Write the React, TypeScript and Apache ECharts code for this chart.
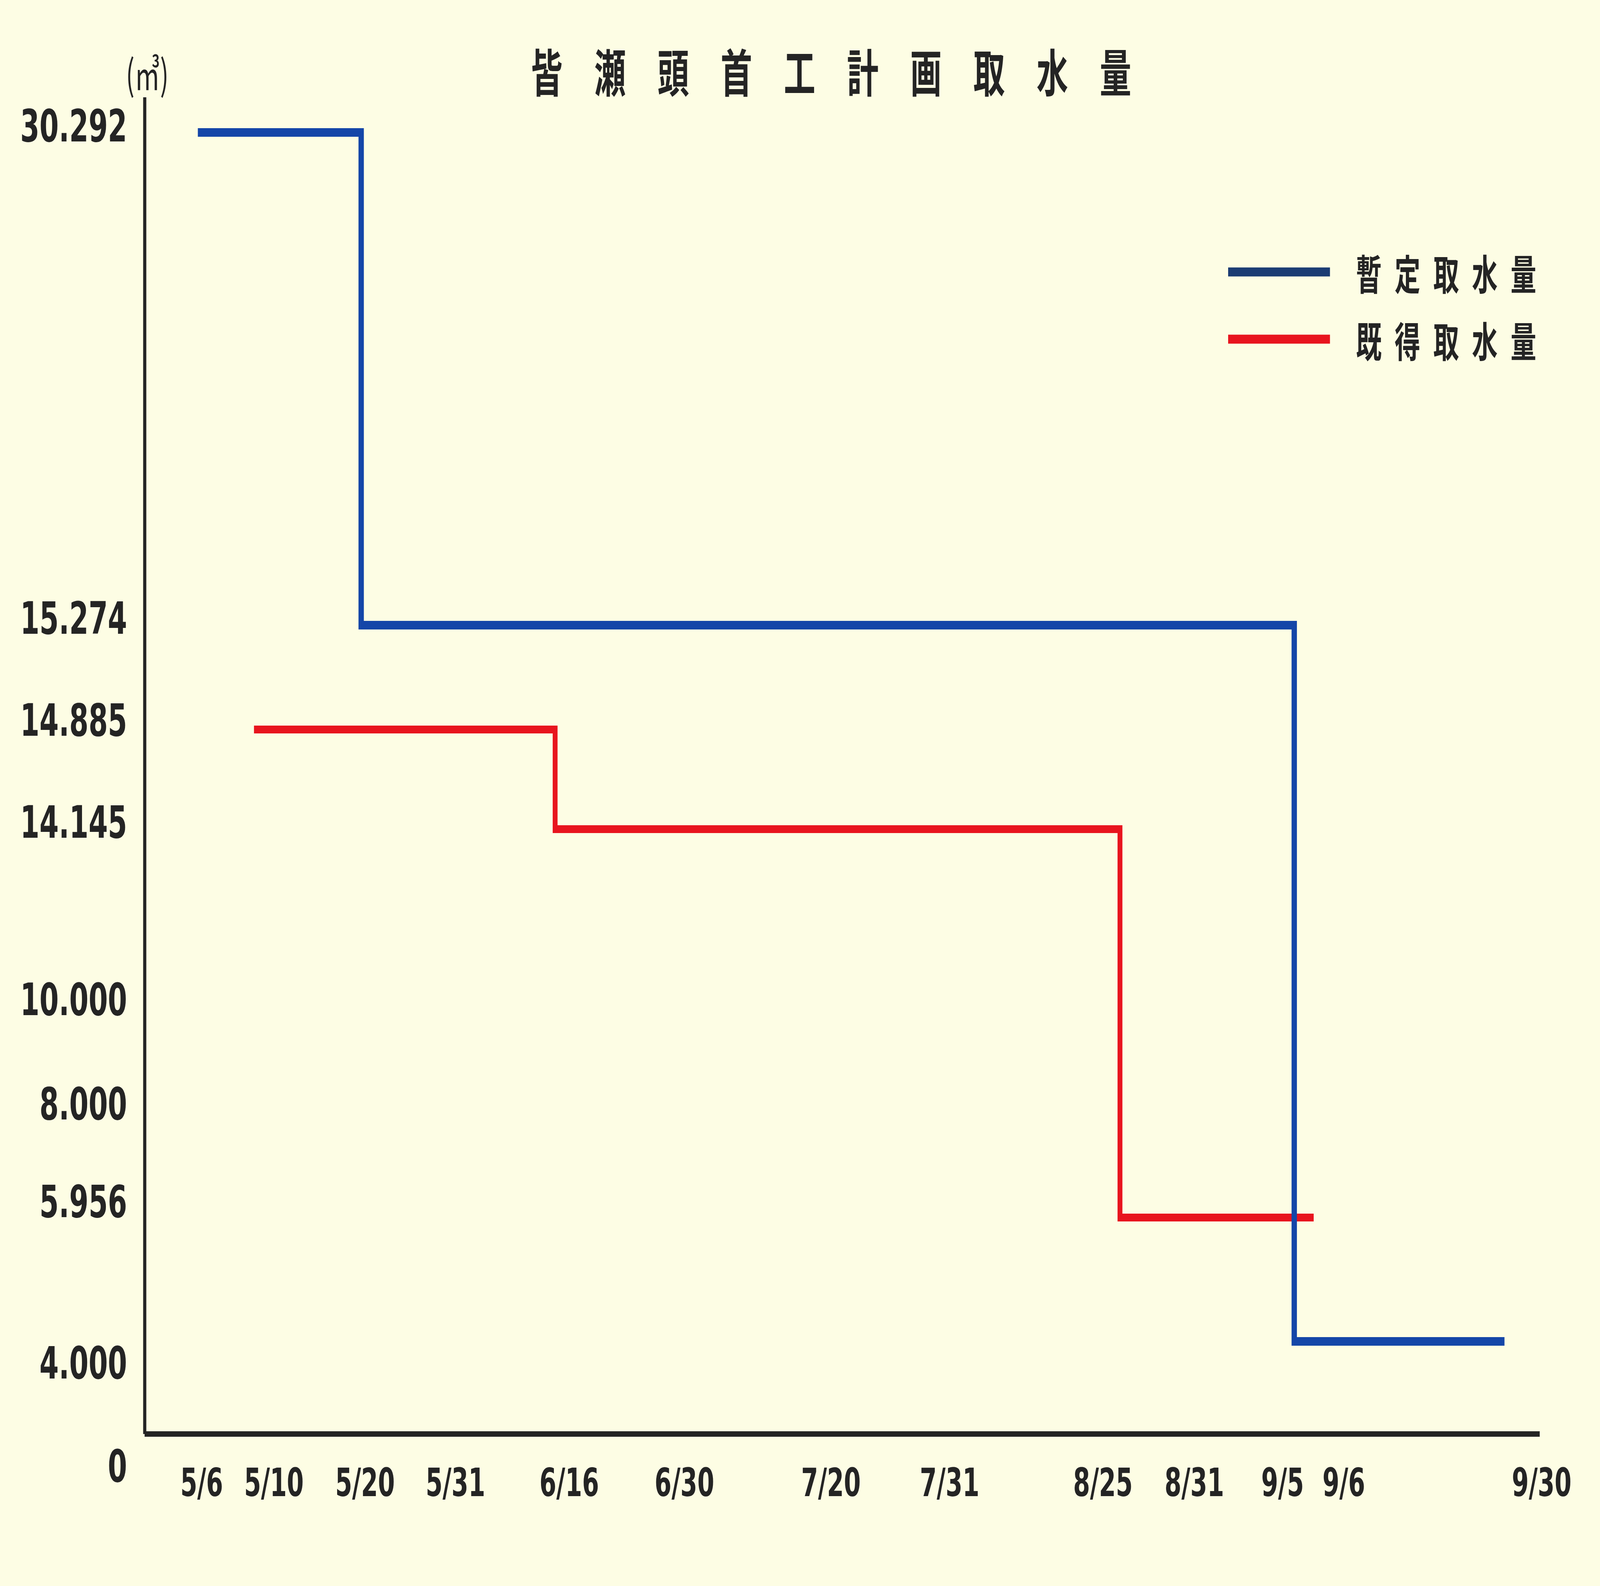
import React, { useEffect, useRef } from "react";
import * as echarts from "echarts";

// ---------- content ----------
const TITLE = "皆瀬頭首工計画取水量";
const UNIT = "(㎥)";
const seriesNames = ["暫定取水量", "既得取水量"];

const dateLabels = ["5/6", "5/10", "5/20", "5/31", "6/16", "6/30", "7/20", "7/31", "8/25", "8/31", "9/5", "9/6", "9/30"];
const valueLabels = ["0", "4.000", "5.956", "8.000", "10.000", "14.145", "14.885", "15.274", "30.292"];
const tickValues = [0, 4.0, 5.956, 8.0, 10.0, 14.145, 14.885, 15.274, 30.292];

const provisionalDates = ["5/6", "5/20", "9/5", "9/30"];
const provisionalValues = [30.292, 15.274, 4.0, 4.0];
const existingDates = ["5/10", "6/16", "8/25", "9/6"];
const existingValues = [14.885, 14.145, 5.956, 5.956];

// ---------- layout (page of 6583 x 4059; hand-drawn, non-linear axes) ----------
const W = 6583;
const H = 4059;
const PLOT_LEFT = 595;
const PLOT_RIGHT = 6335;
const PLOT_TOP = 249;
const PLOT_BOTTOM = 3670;
// where each date sits along the x axis, and how far its printed label is shifted
const dateAxisPos = [814, 1045, 1486, 1874, 2284, 2816, 3419, 3907, 4608, 4914, 5325, 5405, 6190];
const dateLabelShift = [16, 82, 16, 0, 58, 0, 0, 0, -70, 0, -48, 124, 153];
// where each tick value sits (page y), and vertical shift of its printed label
const valueAxisY = [3670, 3433, 3116, 2825, 2558, 2122, 1867, 1600, 339];
const valueLabelShift = [82, 55, -41, 0, 0, -18, -24, -18, -17];

const BLUE = "#1446a8";
const BLUE_LEGEND = "#1b3c73";
const RED = "#e8141e";
const INK = "#242424";
const BG = "#fdfde4";

// scales: date -> x axis units, value -> y axis units (piecewise linear)
const xOf = (d: string) => dateAxisPos[dateLabels.indexOf(d)];
const yUnits = valueAxisY.map((py) => PLOT_BOTTOM - py);
const yOf = (v: number) => {
  for (let i = 0; i < tickValues.length - 1; i++) {
    const a = tickValues[i];
    const b = tickValues[i + 1];
    if (v >= a && v <= b) {
      const t = (v - a) / (b - a);
      return yUnits[i] + t * (yUnits[i + 1] - yUnits[i]);
    }
  }
  return yUnits[yUnits.length - 1];
};
const nearest = (arr: number[], v: number) => {
  let best = 0;
  for (let i = 1; i < arr.length; i++) if (Math.abs(arr[i] - v) < Math.abs(arr[best] - v)) best = i;
  return best;
};

const AXIS_FONT = "DejaVu Sans";
const CJK_FONT = "Noto Sans CJK JP";

export default function App() {
  const wrapRef = useRef<HTMLDivElement>(null);
  const ref = useRef<HTMLDivElement>(null);
  useEffect(() => {
    document.body.style.margin = "0";
    document.body.style.overflow = "hidden";
    document.body.style.background = BG;
    const el = ref.current;
    const wrap = wrapRef.current;
    if (!el || !wrap) return;
    // fit the 6583 x 4059 drawing into whatever viewport the page really has
    const vw = window.innerWidth || W;
    const vh = window.innerHeight || H;
    el.style.transform = `scale(${vw / W}, ${vh / H})`;

    const chart = echarts.init(el, undefined, { renderer: "svg" });

    const xRich: Record<string, any> = {};
    dateLabelShift.forEach((d, i) => {
      xRich["d" + i] = {
        fontSize: 100,
        fontWeight: "bold",
        fontFamily: AXIS_FONT,
        color: INK,
        padding: d >= 0 ? [0, 0, 0, 2 * d] : [0, -2 * d, 0, 0],
      };
    });
    const yRich: Record<string, any> = {};
    valueLabelShift.forEach((d, i) => {
      yRich["v" + i] = {
        fontSize: 114,
        fontWeight: "bold",
        fontFamily: AXIS_FONT,
        color: INK,
        padding: d >= 0 ? [2 * d, 0, 0, 0] : [0, 0, -2 * d, 0],
      };
    });

    const option: any = {
      animation: false,
      backgroundColor: BG,
      title: {
        text: TITLE.split("").join("\u3000"),
        left: 3420 - (19 * 130) / 2,
        top: 113,
        padding: 0,
        textStyle: { fontSize: 130, fontWeight: "bold", fontFamily: CJK_FONT, color: INK, lineHeight: 130 },
      },
      legend: {
        orient: "vertical",
        left: 5053,
        top: 627,
        padding: 0,
        itemGap: 34,
        icon: "rect",
        itemWidth: 419,
        itemHeight: 23,
        selectedMode: false,
        data: [
          { name: seriesNames[0], itemStyle: { color: BLUE_LEGEND } },
          { name: seriesNames[1], itemStyle: { color: RED } },
        ],
        formatter: (name: string) => name.split("").join("\u2002"),
        textStyle: {
          fontSize: 106,
          fontWeight: "bold",
          fontFamily: CJK_FONT,
          color: INK,
          lineHeight: 110,
          padding: [0, 0, 28, 102],
        },
      },
      grid: {
        left: PLOT_LEFT,
        top: PLOT_TOP,
        width: PLOT_RIGHT - PLOT_LEFT,
        height: PLOT_BOTTOM - PLOT_TOP,
        containLabel: false,
      },
      xAxis: {
        type: "value",
        min: PLOT_LEFT,
        max: PLOT_RIGHT,
        axisLine: { show: true, lineStyle: { color: INK, width: 14, cap: "butt" } },
        axisTick: { show: false },
        splitLine: { show: false },
        axisLabel: {
          customValues: dateAxisPos,
          margin: 75,
          formatter: (v: number) => {
            const i = nearest(dateAxisPos, v);
            return "{d" + i + "|" + dateLabels[i] + "}";
          },
          rich: xRich,
        },
      },
      yAxis: {
        type: "value",
        min: 0,
        max: PLOT_BOTTOM - PLOT_TOP,
        name: UNIT,
        nameLocation: "end",
        nameGap: 12,
        nameTextStyle: {
          fontSize: 105,
          fontFamily: CJK_FONT,
          color: INK,
          padding: [0, 0, 0, 22],
        },
        axisLine: { show: true, lineStyle: { color: INK, width: 13, cap: "butt" } },
        axisTick: { show: false },
        splitLine: { show: false },
        axisLabel: {
          customValues: yUnits,
          margin: 72,
          formatter: (v: number) => {
            const i = nearest(yUnits, v);
            return "{v" + i + "|" + valueLabels[i] + "}";
          },
          rich: yRich,
        },
      },
      series: [
        {
          name: seriesNames[1],
          type: "line",
          step: "end",
          symbol: "none",
          silent: true,
          z: 2,
          clip: false,
          data: existingDates.map((d, i) => [xOf(d), yOf(existingValues[i])]),
          lineStyle: { color: RED, width: 20, cap: "butt", join: "miter" },
          itemStyle: { color: RED },
        },
        {
          name: seriesNames[0],
          type: "line",
          step: "end",
          symbol: "none",
          silent: true,
          z: 3,
          clip: false,
          data: provisionalDates.map((d, i) => [xOf(d), yOf(provisionalValues[i])]),
          lineStyle: { color: BLUE, width: 22, cap: "butt", join: "miter" },
          itemStyle: { color: BLUE },
        },
      ],
    };
    chart.setOption(option);
    return () => chart.dispose();
  }, []);
  return (
    <div ref={wrapRef} style={{ width: "100vw", height: "100vh", overflow: "hidden", position: "relative" }}>
      <div
        ref={ref}
        style={{ width: W + "px", height: H + "px", transformOrigin: "0 0", position: "absolute", left: 0, top: 0 }}
      />
    </div>
  );
}
